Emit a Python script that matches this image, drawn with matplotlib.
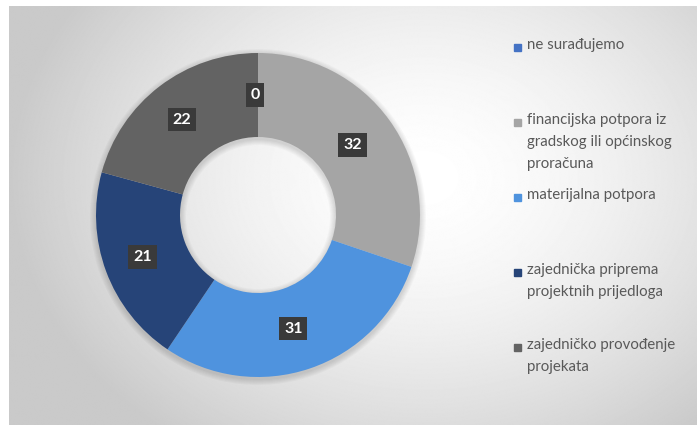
import numpy as np
import matplotlib.pyplot as plt

labels = ["ne surađujemo",
          "financijska potpora iz\ngradskog ili općinskog\nproračuna",
          "materijalna potpora",
          "zajednička priprema\nprojektnih prijedloga",
          "zajedničko provođenje\nprojekata"]
values = [0, 32, 31, 21, 22]
colors = ["#4472c4", "#a5a5a5", "#4f93de", "#264478", "#636363"]

W, H = 697, 425
fig = plt.figure(figsize=(W / 100, H / 100), dpi=100)
ax = fig.add_axes([0, 0, 1, 1])

# background: soft radial gradient, white in the middle, grey at the edges
yy, xx = np.mgrid[0:H, 0:W]
d = np.sqrt(((xx - 420) / 420.0) ** 2 + ((yy - 250) / 330.0) ** 2)
g = 1.0 - 0.21 * np.clip(d, 0, 1) ** 1.6
ax.imshow(g, cmap="gray", vmin=0, vmax=1, extent=(9, W, 0, H - 6),
          origin="lower", zorder=0, aspect="auto")

cx, cy, r, w = 258, 210, 162, 84

# faint shadow around the ring
for k in range(6):
    ax.pie([1], colors=["black"], center=(cx, cy - 2), radius=r + 1 + k,
           wedgeprops=dict(width=w + 2 + 2 * k, edgecolor="none", alpha=0.025))

wedges, _ = ax.pie(values, colors=colors, startangle=90, counterclock=False,
                   center=(cx, cy), radius=r,
                   wedgeprops=dict(width=w, edgecolor="none"))
for wd in wedges:
    wd.set_zorder(2)

# data labels
total = sum(values)
cum = 0
for v in values:
    ang = np.deg2rad(90 - 360 * (cum + v / 2) / total)
    cum += v
    rm = r - w / 2
    ax.text(cx + rm * np.cos(ang) - 3, cy + rm * np.sin(ang), str(v),
            color="white", fontsize=11.5, fontweight="bold", family="Lato",
            ha="center", va="center", zorder=4,
            bbox=dict(boxstyle="square,pad=0.3", fc="#3a3a3a", ec="none"))

# legend
for i, (lab, col) in enumerate(zip(labels, colors)):
    y = H - 47 - i * 75
    ax.add_patch(plt.Rectangle((514, y - 4), 7, 7, color=col, zorder=3))
    ax.text(527, y + 9, lab, color="#595959", fontsize=10.8, family="Lato",
            ha="left", va="top", linespacing=1.72, zorder=3)

ax.set_xlim(0, W)
ax.set_ylim(0, H)
ax.set_aspect("auto")
ax.axis("off")

fig.savefig("out.png", dpi=100)
